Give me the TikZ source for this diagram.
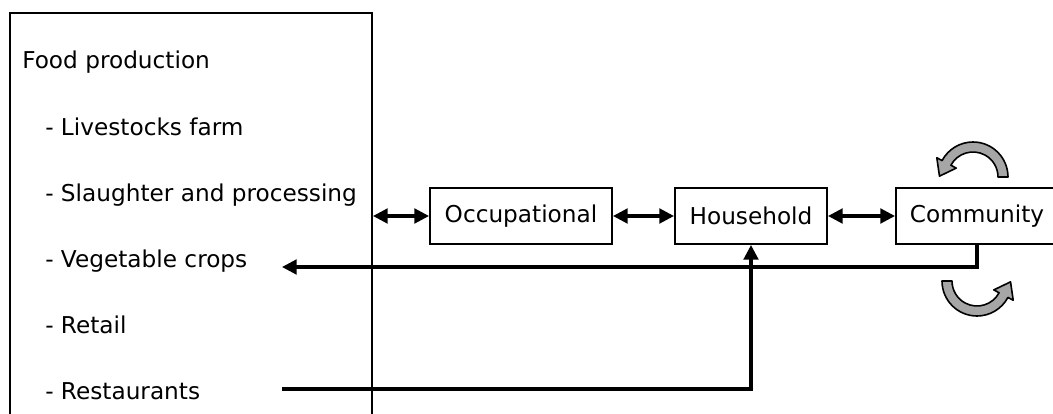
\documentclass[tikz,border=0pt]{standalone}
\usepackage{fontspec}
\setmainfont{DejaVu Sans}
\usetikzlibrary{arrows.meta,calc}

\tikzset{
  lvl/.style={draw, line width=1.5pt, minimum height=42pt, inner sep=0pt},
  item/.style={anchor=base west, inner sep=0pt},
  link/.style={line width=2.3pt, -{Triangle[length=11pt,width=11pt]}},
  both/.style={line width=2.3pt, {Triangle[length=11pt,width=11pt]}-{Triangle[length=11pt,width=11pt]}},
  loop arrow/.pic={
    \filldraw[fill=black!35, draw=black, line width=1.2pt, line join=round]
      (0:35) arc[start angle=0, end angle=-152, radius=35]
      -- (-152:41) -- ($(-152:30)+(-242:15)$) -- (-152:19) -- (-152:25)
      arc[start angle=-152, end angle=0, radius=25] -- cycle;
  }
}

\begin{document}
\begin{tikzpicture}[x=0.75pt,y=-0.75pt,font=\fontsize{17.4}{21}\selectfont]
\useasboundingbox (0,0) rectangle (1053,414);
\clip (0,0) rectangle (1053,414);
% food production box, cut at the bottom
\node[draw, line width=1.5pt, minimum width=271.5pt, minimum height=315pt, inner sep=0pt] (food) at (191,223) {};
\node[item] (fp) at (22,68) {Food production};
\node[item] (live) at (45,135) {- Livestocks farm};
\node[item] (slau) at (45,201) {- Slaughter and processing};
\node[item] (veg) at (45,267) {- Vegetable crops};
\node[item] (ret) at (45,333) {- Retail};
\node[item] (rest) at (45,399) {- Restaurants};
% levels
\node[lvl, minimum width=136.5pt] (occ) at (521,216) {Occupational};
\node[lvl, minimum width=114pt] (hh) at (751,216) {Household};
\node[lvl, minimum width=121.5pt] (com) at (977,216) {Community};
\draw[both] (food.east |- occ.west) -- (occ.west);
\draw[both] (occ) -- (hh);
\draw[both] (hh) -- (com);
\coordinate (vegtip) at (282,267);
\coordinate (restend) at (282,389);
\draw[link] (com.south) |- (vegtip);
\draw[link] (restend) -| (hh.south);
% community loops
\pic at (973,177) {loop arrow};
\pic[rotate=180] at (977,281) {loop arrow};
\end{tikzpicture}
\end{document}
